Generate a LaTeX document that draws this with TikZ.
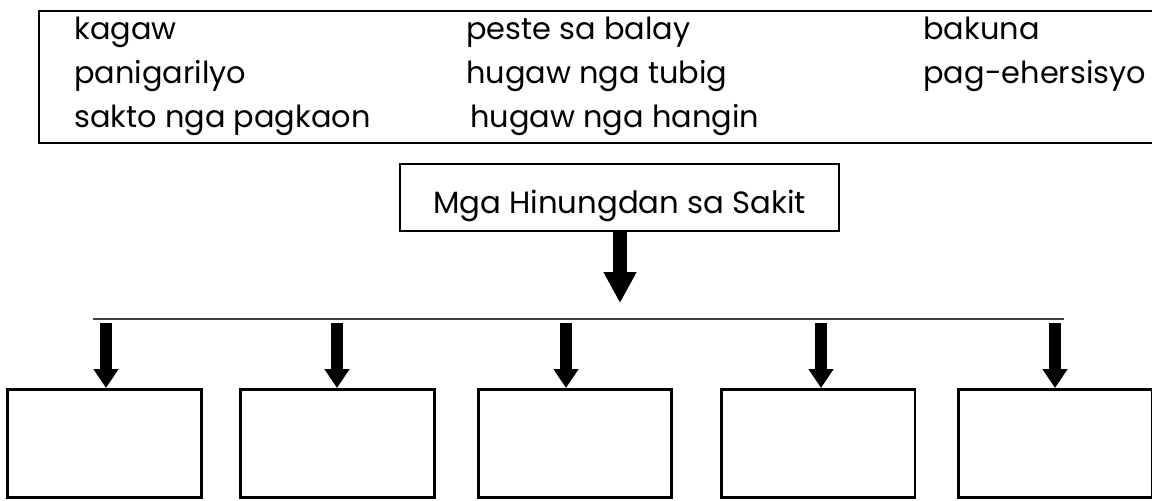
\documentclass[tikz,border=0pt]{standalone}
\usepackage{fontspec}
\setmainfont{Poppins}
\usetikzlibrary{arrows.meta}
\begin{document}
\begin{tikzpicture}[x=0.02cm, y=-0.02cm, line join=miter,
	word/.style={anchor=base west, inner sep=0pt, font=\fontsize{17.3}{20}\selectfont},
	answer/.style={draw, line width=1.7pt, minimum width=3.88cm, minimum height=2.16cm, inner sep=0pt},
	smallarrow/.style={line width=6.8pt, -{Triangle[length=10.8pt, width=13.6pt]}},
	bigarrow/.style={line width=8.5pt, -{Triangle[length=17.6pt, width=17.6pt]}}]
			\useasboundingbox (0,0) rectangle (1152,500);
			% word bank
			\draw[line width=1.7pt] (39,11) rectangle (1165,143);
			\path 
			(74,40) node[word](w-kagaw){kagaw}
			(74,84) node[word](w-panigarilyo){panigarilyo}
			(74,128) node[word](w-pagkaon){sakto nga pagkaon}
			(466,40) node[word](w-peste){peste sa balay}
			(466,84) node[word](w-tubig){hugaw nga tubig}
			(470,128) node[word](w-hangin){hugaw nga hangin}
			(923,40) node[word](w-bakuna){bakuna}
			(923,84) node[word](w-ehersisyo){pag-ehersisyo};
			% main box and branch line
			\node[draw, line width=0.85pt, minimum width=8.79cm, text height=1.0cm, text depth=0.35cm, inner sep=0pt,
			font=\fontsize{17.5}{21}\selectfont] (hinungdan) at (619.5,197.5) {Mga Hinungdan sa Sakit};
			\coordinate (tip) at (620,303);
			\draw[bigarrow] (hinungdan.south -| tip) -- (tip);
			\coordinate (line-w) at (93,319); \coordinate (line-e) at (1064,319);
			\draw[line width=1.4pt, black!75] (line-w) -- (line-e);
			% five empty boxes
			\foreach \i/\bx/\ax in {1/104.5/106, 2/337.5/337, 3/575/566, 4/818/821, 5/1055.5/1055}{
				\node[answer] (b\i) at (\bx,443.5) {};
				\coordinate (a\i) at (\ax,323);
				\draw[smallarrow] (a\i) -- (a\i |- b\i.north);
			}
\end{tikzpicture}
\end{document}
